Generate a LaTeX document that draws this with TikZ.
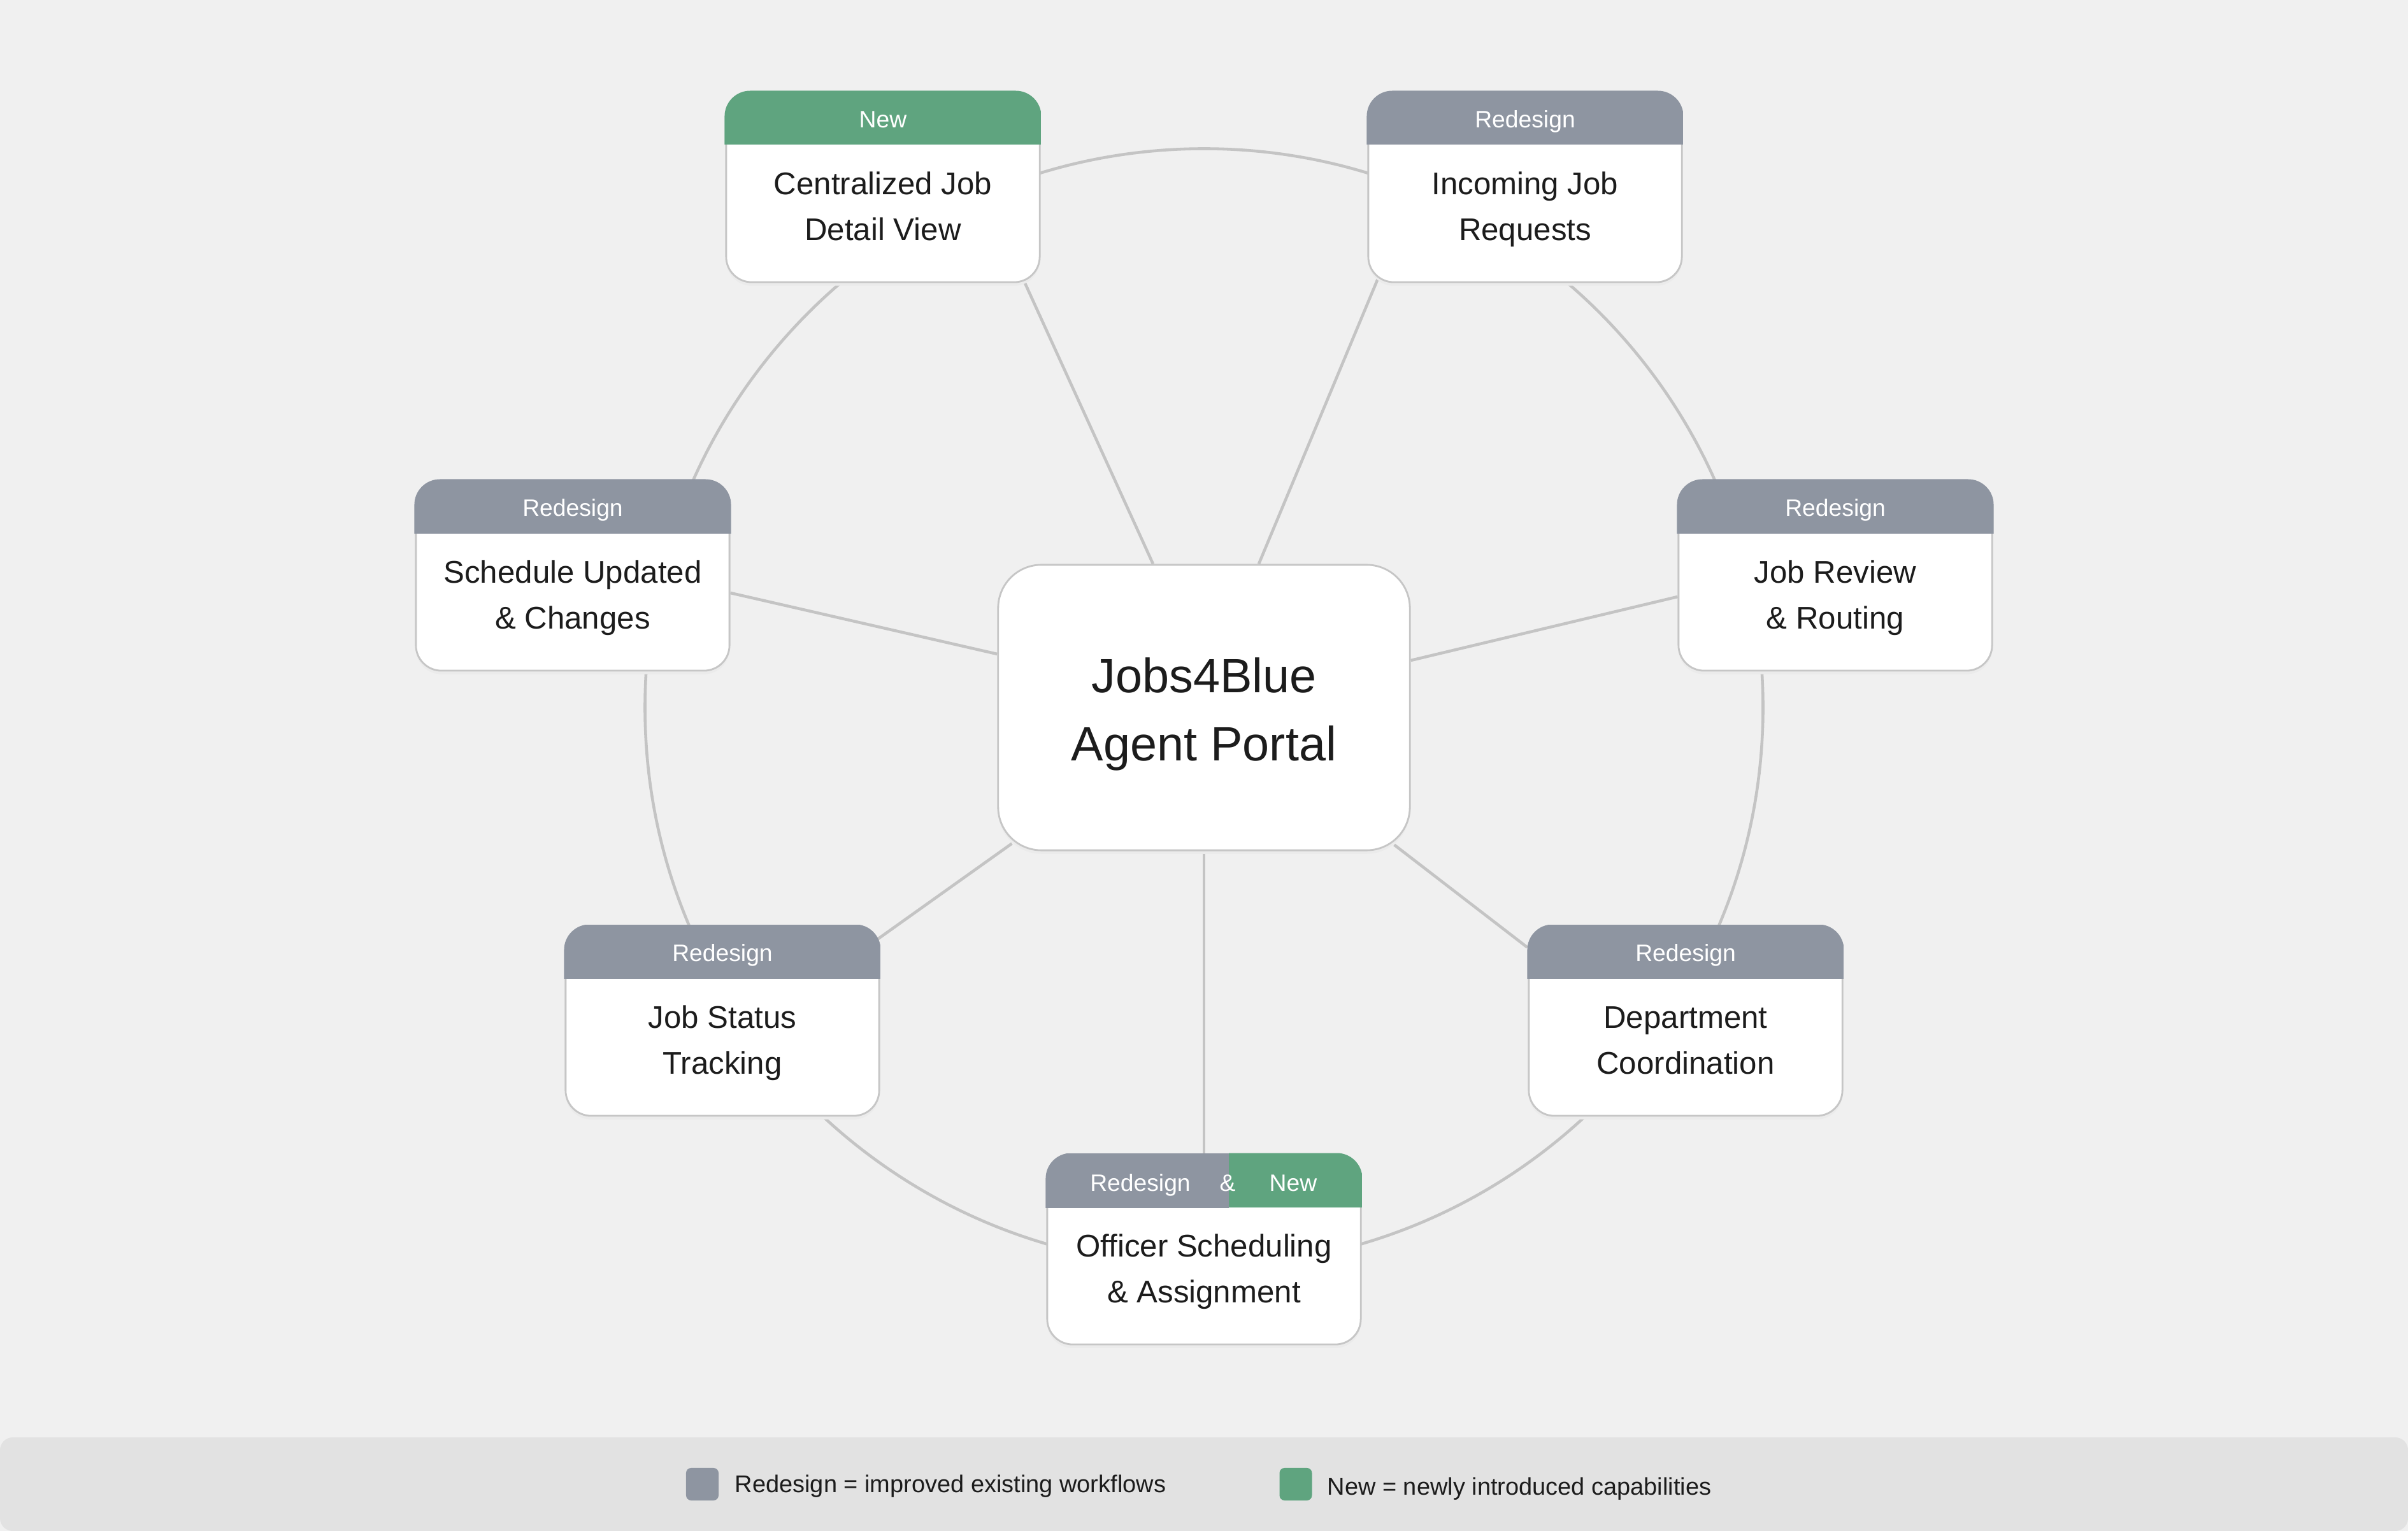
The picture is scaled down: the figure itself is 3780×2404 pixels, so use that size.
\documentclass[tikz,border=0pt]{standalone}
\usepackage{fontspec}
\setmainfont{Liberation Sans}
\usetikzlibrary{calc}
\pgfdeclarelayer{back}
\pgfdeclarelayer{wires}
\pgfsetlayers{back,wires,main}
\definecolor{bg}{HTML}{F0F0F0}
\definecolor{legbg}{HTML}{E2E2E2}
\definecolor{hdrgray}{HTML}{8E95A1}
\definecolor{hdrgreen}{HTML}{5FA47F}
\definecolor{edge}{HTML}{C4C4C4}
\definecolor{boxedge}{HTML}{C6C6C6}
\definecolor{ink}{HTML}{1C1C1C}
\tikzset{
  conn/.style={draw=edge, line width=1.3pt},
  modbox/.style={draw=boxedge, line width=0.8pt, fill=white, rounded corners=0.4cm,
    minimum width=4.92cm, minimum height=2.98cm, inner sep=0pt,
    preaction={fill=black!8, transform canvas={yshift=-1.6pt}}},
  hubbox/.style={draw=boxedge, line width=0.8pt, fill=white, rounded corners=0.68cm,
    minimum width=6.46cm, minimum height=4.48cm, inner sep=0pt,
    preaction={fill=black!8, transform canvas={yshift=-1.6pt}}},
  hdrtxt/.style={text=white, font=\fontsize{10.6pt}{12pt}\selectfont, anchor=base, inner sep=0pt},
  bodytxt/.style={text=ink, align=center, font=\fontsize{14pt}{20.4pt}\selectfont, inner sep=0pt},
  hubtxt/.style={text=ink, align=center, font=\fontsize{21.5pt}{30.4pt}\selectfont, inner sep=0pt},
  legtxt/.style={text=ink, font=\fontsize{10.8pt}{13pt}\selectfont, anchor=base west, inner sep=0pt},
  legsq/.style={rounded corners=0.08cm, minimum size=0.51cm, inner sep=0pt},
}
\newcommand\modnode[6]{%
  \node[modbox] (#1) at (#2,#3) {};
  \begin{scope}
    \clip[rounded corners=0.4cm] ($(#1.north west)+(-1,-1)$) rectangle ($(#1.south east)+(1,1)$);
    \fill[#4] ($(#1.north west)+(-1,-1)$) rectangle ($(#1.north east)+(1,84)$);
  \end{scope}
  \node[hdrtxt] (#1h) at ($(#1.north)+(0,57)$) {#5};
  \node[bodytxt] (#1b) at ($(#1.north)+(0,184)$) {#6};
}
\begin{document}
\begin{tikzpicture}[x=0.01cm, y=-0.01cm]
\begin{pgfonlayer}{back}
  \fill[bg] (0,0) rectangle (3780,2404);
  \fill[legbg, rounded corners=0.2cm] (0,2257) rectangle (3780,2404);
\end{pgfonlayer}
\useasboundingbox (0,0) rectangle (3780,2404);

% hub
\node[hubbox] (c) at (1890,1111) {};
\node[hubtxt] (ct) at (1890,1120) {\strut Jobs4Blue\\\strut Agent Portal};

% modules
\modnode{n1}{1386}{294}{hdrgreen}{New}{\strut Centralized Job\\\strut Detail View}
\modnode{n2}{2394}{294}{hdrgray}{Redesign}{\strut Incoming Job\\\strut Requests}
\modnode{n3}{899}{904}{hdrgray}{Redesign}{\strut Schedule Updated\\\strut \& Changes}
\modnode{n4}{2881}{904}{hdrgray}{Redesign}{\strut Job Review\\\strut \& Routing}
\modnode{n5}{1134}{1603}{hdrgray}{Redesign}{\strut Job Status\\\strut Tracking}
\modnode{n6}{2646}{1603}{hdrgray}{Redesign}{\strut Department\\\strut Coordination}

% bottom module with split header
\node[modbox] (n7) at (1890,1962) {};
\begin{scope}
  \clip[rounded corners=0.4cm] ($(n7.north west)+(-1,-1)$) rectangle ($(n7.south east)+(1,1)$);
  \fill[hdrgray] ($(n7.north west)+(-1,-1)$) rectangle (1929,1897);
  \fill[hdrgreen] (1929,1810) rectangle ($(n7.north east)+(1,84)$);
\end{scope}
\node[hdrtxt] (n7h1) at (1790,1870) {Redesign};
\node[hdrtxt] (n7h2) at (1927,1870) {\&};
\node[hdrtxt] (n7h3) at (2030,1870) {New};
\node[bodytxt] (n7b) at ($(n7.north)+(0,184)$) {\strut Officer Scheduling\\\strut \& Assignment};

% ring and spokes
\begin{pgfonlayer}{wires}
  \draw[conn] (c.center) circle[radius=8.77cm];
  \draw[conn] ($(c.north)+(-80,0)$) -- ($(n1.south east)+(-26,-3)$);
  \draw[conn] ($(c.north)+(86,0)$) -- ($(n2.south west)+(17,-8)$);
  \draw[conn] ($(c.west)+(0,-84)$) -- ($(n3.east)+(0,27)$);
  \draw[conn] ($(c.east)+(0,-74)$) -- ($(n4.west)+(0,33)$);
  \draw[conn] ($(c.south west)+(23,-12)$) -- ($(n5.north east)+(-5,23)$);
  \draw[conn] ($(c.south east)+(-26,-10)$) -- ($(n6.north west)+(-1,35)$);
  \draw[conn] (c.south) -- (n7.north);
\end{pgfonlayer}

% legend
\node[legsq, fill=hdrgray] (lg1) at (1102.5,2330.5) {};
\node[legtxt] (lt1) at (1153,2343) {Redesign = improved existing workflows};
\node[legsq, fill=hdrgreen] (lg2) at (2034,2330.5) {};
\node[legtxt] (lt2) at (2083,2347) {New = newly introduced capabilities};
\end{tikzpicture}
\end{document}
